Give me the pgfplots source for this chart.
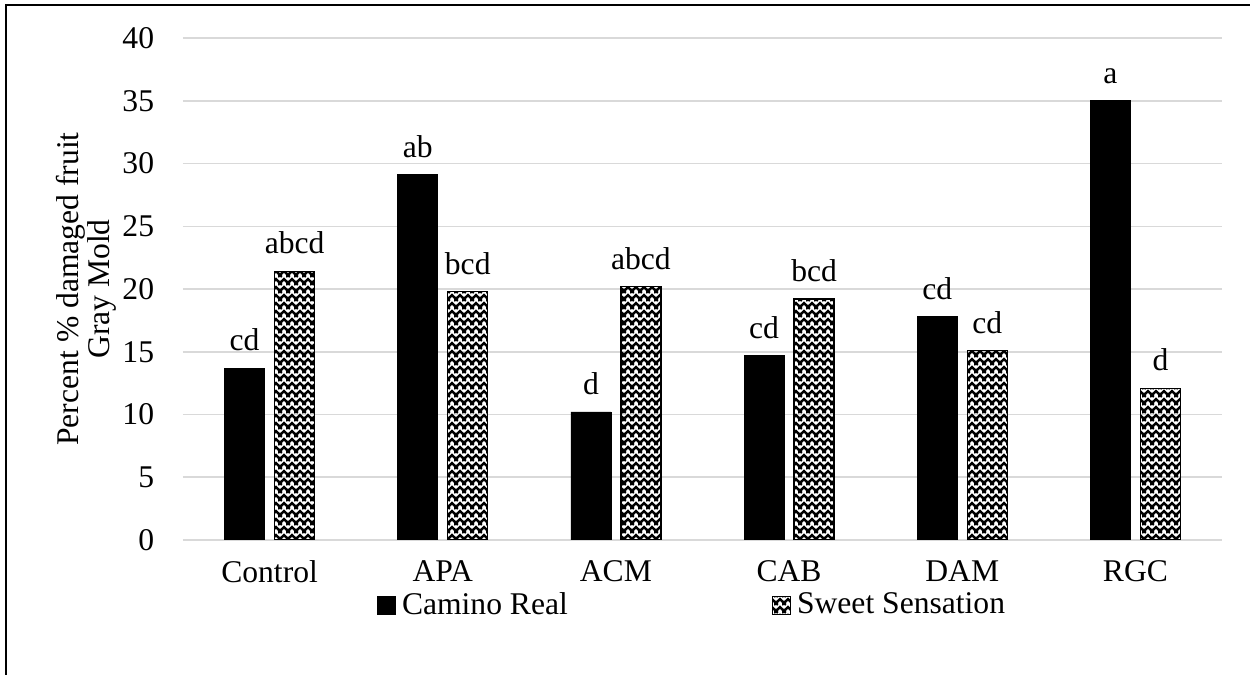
\documentclass[border=0pt]{standalone}
\usepackage{pgfplots}
\pgfplotsset{compat=1.18}
\usepackage{pgfplotstable}
\usepackage{fontspec}
\setmainfont{Liberation Serif}
\usetikzlibrary{patterns}
\pgfdeclarepatternformonly{zigzag}{\pgfqpoint{-1pt}{-1pt}}{\pgfqpoint{5pt}{5pt}}{\pgfqpoint{4pt}{4pt}}{
  \pgfsetlinewidth{1.1pt}
  \pgfpathmoveto{\pgfqpoint{-1pt}{-1pt}}
  \pgfpathlineto{\pgfqpoint{2pt}{2pt}}
  \pgfpathlineto{\pgfqpoint{5pt}{-1pt}}
  \pgfpathmoveto{\pgfqpoint{-1pt}{3pt}}
  \pgfpathlineto{\pgfqpoint{2pt}{6pt}}
  \pgfpathlineto{\pgfqpoint{5pt}{3pt}}
  \pgfusepath{stroke}
}
\definecolor{gridgray}{RGB}{217,217,217}

\pgfplotstableread{
x y lab
0 13.7 cd
1 29.1 ab
2 10.2 d
3 14.7 cd
4 17.8 cd
5 35.0 a
}\camino
\pgfplotstableread{
x y lab
0 21.4 abcd
1 19.8 bcd
2 20.2 abcd
3 19.2 bcd
4 15.1 cd
5 12.1 d
}\sweet

\begin{document}
\fontsize{15.8}{16}\selectfont
\begin{tikzpicture}
\useasboundingbox (0,0) rectangle (625pt,337.5pt);
\draw[line width=1pt] (3.2pt,0) -- (3.2pt,335pt) -- (625pt,335pt);
\begin{axis}[
  at={(91.5pt,67.5pt)}, anchor=south west,
  scale only axis, width=519.5pt, height=251pt,
  ybar=5pt, bar width=20pt,
  xmin=-0.5, xmax=5.5, ymin=0, ymax=40,
  xtick={0,1,2,3,4,5},
  xticklabels={Control,APA,ACM,CAB,DAM,RGC},
  ytick={0,5,...,40},
  axis line style={draw=none},
  major tick length=0pt,
  ymajorgrids, grid style={gridgray, line width=0.75pt},
  yticklabel style={xshift=-9pt},
  xticklabel style={yshift=-5pt},
  tick label style={font=\fontsize{15.8}{16}\selectfont},
  /pgf/number format/assume math mode=true,
  ylabel={Percent \% damaged fruit\\Gray Mold},
  ylabel shift=-7.5pt,
  ylabel style={align=center, font=\fontsize{15.8}{15.5}\selectfont},
  nodes near coords, point meta=explicit symbolic,
  every node near coord/.append style={font=\fontsize{15.8}{16}\selectfont, yshift=3pt, black},
  legend columns=2,
  legend style={at={(0.491,-0.131)}, anchor=center, draw=none, fill=none,
    font=\fontsize{15.8}{16}\selectfont,
    /tikz/every even column/.append style={column sep=100pt},
    /tikz/every odd column/.append style={column sep=1pt}},
  legend image code/.code={\draw[#1] (0pt,-4.5pt) rectangle (9pt,4.5pt);},
]
\addplot[fill=black, draw=black] table[x=x, y=y, meta=lab] {\camino};
\addplot[draw=black, line width=0.6pt, pattern=zigzag, pattern color=black] table[x=x, y=y, meta=lab] {\sweet};
\legend{Camino Real, Sweet Sensation}
\end{axis}
\end{tikzpicture}
\end{document}
